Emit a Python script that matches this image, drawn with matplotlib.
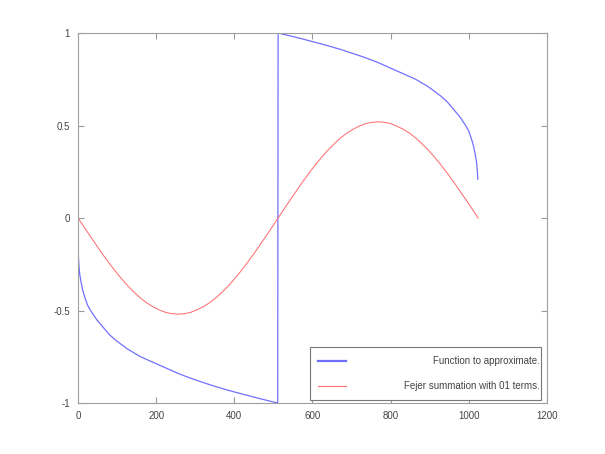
import matplotlib
matplotlib.use("Agg")
import matplotlib.pyplot as plt
from matplotlib.patches import Rectangle
from matplotlib.lines import Line2D
from matplotlib.ticker import FuncFormatter

# Function to approximate
f_x = [0, 1, 2, 4, 8, 12, 16, 24, 32, 48, 64, 80, 96, 128, 160, 192, 224, 256, 288, 320, 352, 384, 416, 448,
       480, 511,
       512, 544, 576, 608, 640, 672, 704, 736, 768, 800, 832, 864, 896, 928, 944, 960, 976, 992, 1000, 1008,
       1012, 1016, 1020, 1022, 1023]
f_y = [0.0, -0.21, -0.25, -0.30, -0.35, -0.39, -0.42, -0.47, -0.50, -0.55, -0.59, -0.63, -0.66, -0.71, -0.75,
       -0.78, -0.81, -0.84, -0.866, -0.889, -0.911, -0.931, -0.949, -0.967, -0.984, -1.0,
       1.0, 0.984, 0.967, 0.949, 0.931, 0.911, 0.889, 0.866, 0.84, 0.81, 0.78, 0.75, 0.71, 0.66, 0.63, 0.59,
       0.55, 0.50, 0.47, 0.42, 0.39, 0.35, 0.30, 0.25, 0.21]

# Fejer summation with 1 term
s_x = [0, 16, 32, 48, 64, 80, 96, 112, 128, 144, 160, 176, 192, 208, 224, 240, 256,
       272, 288, 304, 320, 336, 352, 368, 384, 400, 416, 432, 448, 464, 480, 496, 512,
       528, 544, 560, 576, 592, 608, 624, 640, 656, 672, 688, 704, 720, 736, 752, 768,
       784, 800, 816, 832, 848, 864, 880, 896, 912, 928, 944, 960, 976, 992, 1008, 1024]
s_y = [0.0, -0.051, -0.101, -0.150, -0.199, -0.245, -0.289, -0.330, -0.368, -0.402, -0.433, -0.459, -0.480,
       -0.497, -0.510, -0.517, -0.520,
       -0.517, -0.510, -0.497, -0.480, -0.459, -0.433, -0.402, -0.368, -0.330, -0.289, -0.245, -0.199,
       -0.150, -0.101, -0.051, 0.0,
       0.051, 0.101, 0.150, 0.199, 0.245, 0.289, 0.330, 0.368, 0.402, 0.433, 0.459, 0.480, 0.497, 0.510,
       0.517, 0.520,
       0.517, 0.510, 0.497, 0.480, 0.459, 0.433, 0.402, 0.368, 0.330, 0.289, 0.245, 0.199, 0.150, 0.101,
       0.051, 0.0]

labels = ["Function to approximate.", "Fejer summation with 01 terms."]
x_ticks = [0, 200, 400, 600, 800, 1000, 1200]
y_ticks = [-1, -0.5, 0, 0.5, 1]

plt.rcParams['font.family'] = ['Liberation Sans', 'DejaVu Sans']

fig = plt.figure(figsize=(6.05, 4.54), dpi=100)
ax = fig.add_axes([0.129, 0.1123, 0.775, 0.815])

blue = '#7070ff'
red = '#ff7070'
ax.plot(f_x, f_y, color=blue, lw=0.9)
ax.plot(s_x, s_y, color=red, lw=0.75)

ax.set_xlim(0, 1200)
ax.set_ylim(-1, 1)
ax.set_xticks(x_ticks)
ax.set_yticks(y_ticks)
ax.xaxis.set_major_formatter(FuncFormatter(lambda v, p: f"{v:g}"))
ax.yaxis.set_major_formatter(FuncFormatter(lambda v, p: f"{v:g}"))
ax.tick_params(direction='in', length=4, width=0.8, color='#999999', labelcolor='#444444',
               labelsize=7, top=True, right=True, pad=6)
for s in ax.spines.values():
    s.set_color('#a0a0a0')
    s.set_linewidth(0.8)

# legend box
ax.add_patch(Rectangle((0.495, 0.008), 0.492, 0.143, transform=ax.transAxes,
                       facecolor='white', edgecolor='#777777', lw=0.8, zorder=5))
ax.add_line(Line2D([0.511, 0.571], [0.113, 0.113], transform=ax.transAxes, color=blue, lw=1.6, zorder=6))
ax.add_line(Line2D([0.511, 0.571], [0.046, 0.046], transform=ax.transAxes, color=red, lw=0.8, zorder=6))
ax.text(0.985, 0.113, labels[0], transform=ax.transAxes, ha='right', va='center',
        fontsize=7, color='#444444', zorder=6)
ax.text(0.985, 0.046, labels[1], transform=ax.transAxes, ha='right', va='center',
        fontsize=7, color='#444444', zorder=6)

fig.savefig('out.png', dpi=100)
